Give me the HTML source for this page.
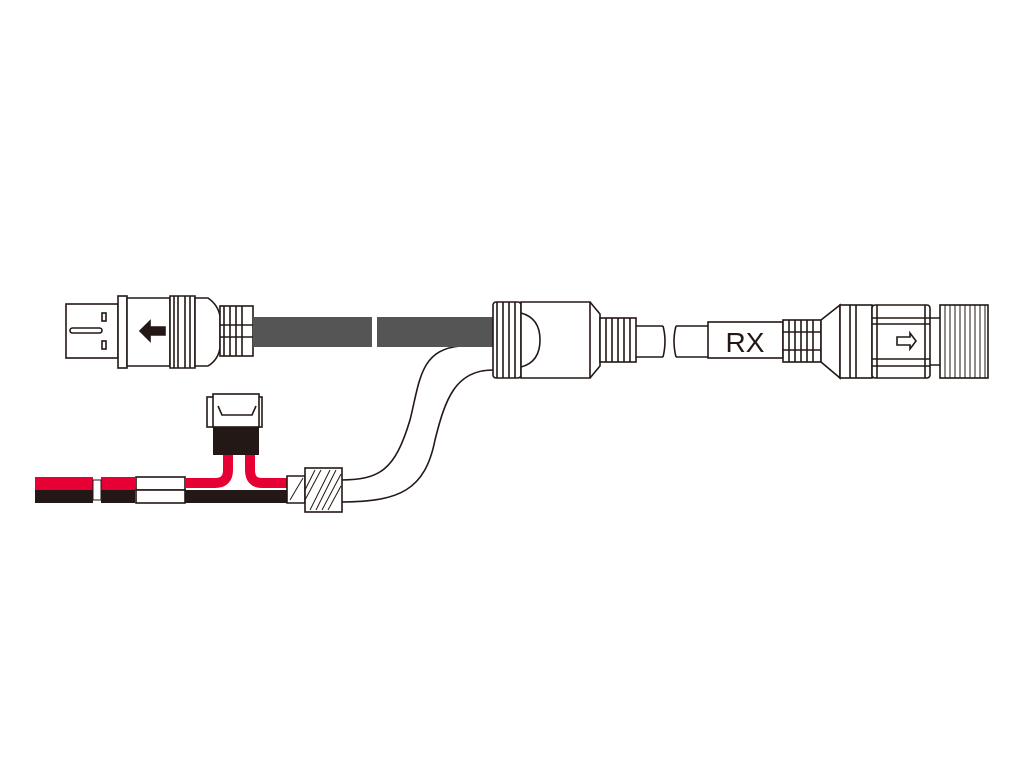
<!DOCTYPE html>
<html><head><style>body{margin:0;background:#fff}svg{display:block}</style></head><body>
<svg width="1024" height="768" viewBox="0 0 1024 768" xmlns="http://www.w3.org/2000/svg" fill="none" stroke="#231815" stroke-width="1.6">
<rect width="1024" height="768" fill="#fff" stroke="none"/>
<!-- lower cable -->
<path d="M460 346 C420 350 420 380 410 420 C395 470 380 480 340 480" />
<path d="M493 370 C455 370 445 400 435 440 C425 490 400 502 340 502" />
<!-- USB plug -->
<rect x="66" y="304" width="52" height="54" fill="#fff"/>
<rect x="70" y="328" width="32" height="5" rx="2.5"/>
<rect x="102" y="313" width="4" height="8"/><rect x="102" y="341" width="4" height="8"/>
<rect x="118" y="296" width="9" height="72" fill="#fff"/>
<path d="M127 298 H170 V366 H127 Z" fill="#fff"/>
<path d="M170 296 H195 V368 H170 Z" fill="#fff"/>
<path d="M174 296V368M178 296V368M185 296V368M190 296V368"/>
<path d="M195 298 H208 Q218 305 220 316 V348 Q218 360 208 366 H195 Z" fill="#fff"/>
<rect x="220" y="306" width="33" height="50" fill="#fff"/>
<path d="M224 306V356M230 306V356M236 306V356M242 306V356M220 325H253M220 337H253"/>
<path d="M140 331 L150 321 V327 H165 V335 H150 V341 Z" fill="#231815"/>
<!-- dark cable -->
<rect x="253" y="317" width="119" height="30" fill="#555" stroke="none"/>
<rect x="377" y="317" width="116" height="30" fill="#555" stroke="none"/>
<!-- hub -->
<rect x="493" y="302" width="28" height="76" rx="3" fill="#fff"/>
<path d="M497 302V378M503 302V378M509 302V378M515 302V378"/>
<path d="M521 302 H590 V378 H521 Z" fill="#fff"/>
<path d="M521 313 Q540 318 540 340 Q540 362 521 367"/>
<path d="M590 302 L600 314 V366 L590 378"/>
<rect x="600" y="318" width="36" height="44" fill="#fff"/>
<path d="M606 318V362M612 318V362M618 318V362M624 318V362M630 318V362"/>
<path d="M636 326 H663 M636 357 H663 M663 326 Q667 341 663 357"/>
<path d="M676 326 H708 M676 357 H708 M676 326 Q672 341 676 357"/>
<rect x="708" y="322" width="75" height="36" fill="#fff"/>
<text x="745" y="352" font-family="Liberation Sans, sans-serif" font-size="28" fill="#231815" stroke="none" text-anchor="middle">RX</text>
<rect x="783" y="320" width="38" height="42" fill="#fff"/>
<path d="M789 320V362M795 320V362M801 320V362M807 320V362M813 320V362M783 332H821M783 350H821"/>
<path d="M821 320 L840 305 V378 L821 362 Z" fill="#fff"/>
<rect x="840" y="305" width="32" height="73" fill="#fff"/>
<path d="M850 305V378M856 305V378"/>
<rect x="872" y="305" width="58" height="73" rx="3" fill="#fff"/>
<path d="M872 318H930M872 324H930M872 359H930M872 366H930M877 305V378M925 305V378"/>
<path d="M897 337 H910 V333 L916 341 L910 349 V345 H897 Z" fill="#fff"/>
<path d="M930 318 H940 M930 365 H940"/>
<rect x="940" y="305" width="48" height="73" fill="#fff"/>
<path d="M945 305V378M950 305V378M955 305V378M960 305V378M965 305V378M970 305V378M975 305V378M980 305V378M985 305V378" stroke-width="1"/>
<!-- wires -->
<rect x="35" y="477" width="58" height="13" fill="#e60033" stroke="none"/>
<rect x="35" y="490" width="58" height="13" fill="#231815" stroke="none"/>
<rect x="101" y="477" width="34" height="13" fill="#e60033" stroke="none"/>
<rect x="101" y="490" width="34" height="13" fill="#231815" stroke="none"/>
<rect x="93" y="480" width="8" height="20" stroke-width="1"/>
<rect x="136" y="477" width="49" height="13" fill="#fff"/>
<rect x="136" y="490" width="49" height="13" fill="#fff"/>
<rect x="185" y="490" width="102" height="13" fill="#231815" stroke="none"/>
<path d="M185 483 H215 Q228 483 228 470 V450" stroke="#e60033" stroke-width="10"/>
<path d="M287 483 H262 Q250 483 250 470 V450" stroke="#e60033" stroke-width="10"/>
<rect x="213" y="427" width="46" height="28" fill="#231815" stroke="none"/>
<rect x="207" y="397" width="55" height="30" fill="#fff"/>
<rect x="213" y="394" width="46" height="33" fill="#fff"/>
<path d="M218 406 L222 415 H252 L256 406"/>
<!-- threaded -->
<path d="M287 476 H305 V503 H287 Z" fill="#fff"/>
<rect x="305" y="468" width="37" height="44" fill="#fff"/>
<path d="M290 500 L303 478 M310 510 L330 470 M316 510 L336 470 M322 510 L341 474 M328 510 L341 486 M305 500 L321 470 M305 490 L315 470" stroke-width="1"/>
</svg>
</body></html>
